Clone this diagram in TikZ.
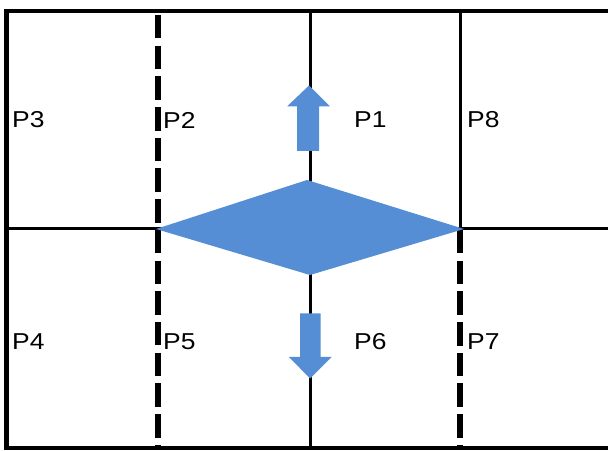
\documentclass[tikz,border=0pt]{standalone}
\usepackage{fontspec}
\newfontfamily\pfont[FakeStretch=1.15]{Liberation Sans}
\definecolor{shapeblue}{RGB}{85,142,213}
\begin{document}
\begin{tikzpicture}[x=1pt,y=1pt,
  gridline/.style={line width=3pt},
  borderline/.style={line width=3.5pt},
  dashline/.style={line width=5.5pt,dash pattern=on 23.5pt off 7.2pt},
  plabel/.style={anchor=west,inner sep=0pt,font=\pfont\fontsize{23}{23}\selectfont},
  bluefill/.style={fill=shapeblue,draw=none}]
\useasboundingbox (0,0) rectangle (608,450);
% frame coordinates
\coordinate (tl) at (4,439);
\coordinate (tr) at (608,439);
\coordinate (bl) at (4,2);
\coordinate (br) at (608,2);
\coordinate (ml) at (4,221);
\coordinate (mr) at (608,221);
% borders
\draw[borderline] (tl) -- (tr);
\draw[borderline] (bl) -- (br);
\draw[line width=5pt] (6,440.75) -- (6,0.25);
% middle horizontal
\draw[gridline] (ml) -- (mr);
% solid verticals
\draw[gridline] (310,439) -- (310,2);
\draw[gridline] (460,439) -- (460,221);
% dashed verticals
\draw[dashline] (158,435) -- (158,0);
\draw[dashline] (460,220) -- (460,0);
% diamond
\coordinate (dl) at (156,221);
\coordinate (dt) at (307,270);
\coordinate (dr) at (464,221);
\coordinate (db) at (310,175);
\fill[bluefill] (dl) -- (dt) -- (dr) -- (db) -- cycle;
% up arrow
\fill[bluefill] (297,299) -- (319,299) -- (319,343.5) -- (330,343.5) -- (309,364.5)
  -- (287,343.5) -- (297,343.5) -- cycle;
% down arrow
\fill[bluefill] (300,136.5) -- (320.5,136.5) -- (320.5,93) -- (331.5,93) -- (310,71.5)
  -- (289,93) -- (300,93) -- cycle;
% labels
\node[plabel] (p3) at (12,330) {P3};
\node[plabel] (p2) at (163,330) {P2};
\node[plabel] (p1) at (354,330) {P1};
\node[plabel] (p8) at (467,330) {P8};
\node[plabel] (p4) at (12,108) {P4};
\node[plabel] (p5) at (163,108) {P5};
\node[plabel] (p6) at (354,108) {P6};
\node[plabel] (p7) at (467,108) {P7};
\end{tikzpicture}
\end{document}
